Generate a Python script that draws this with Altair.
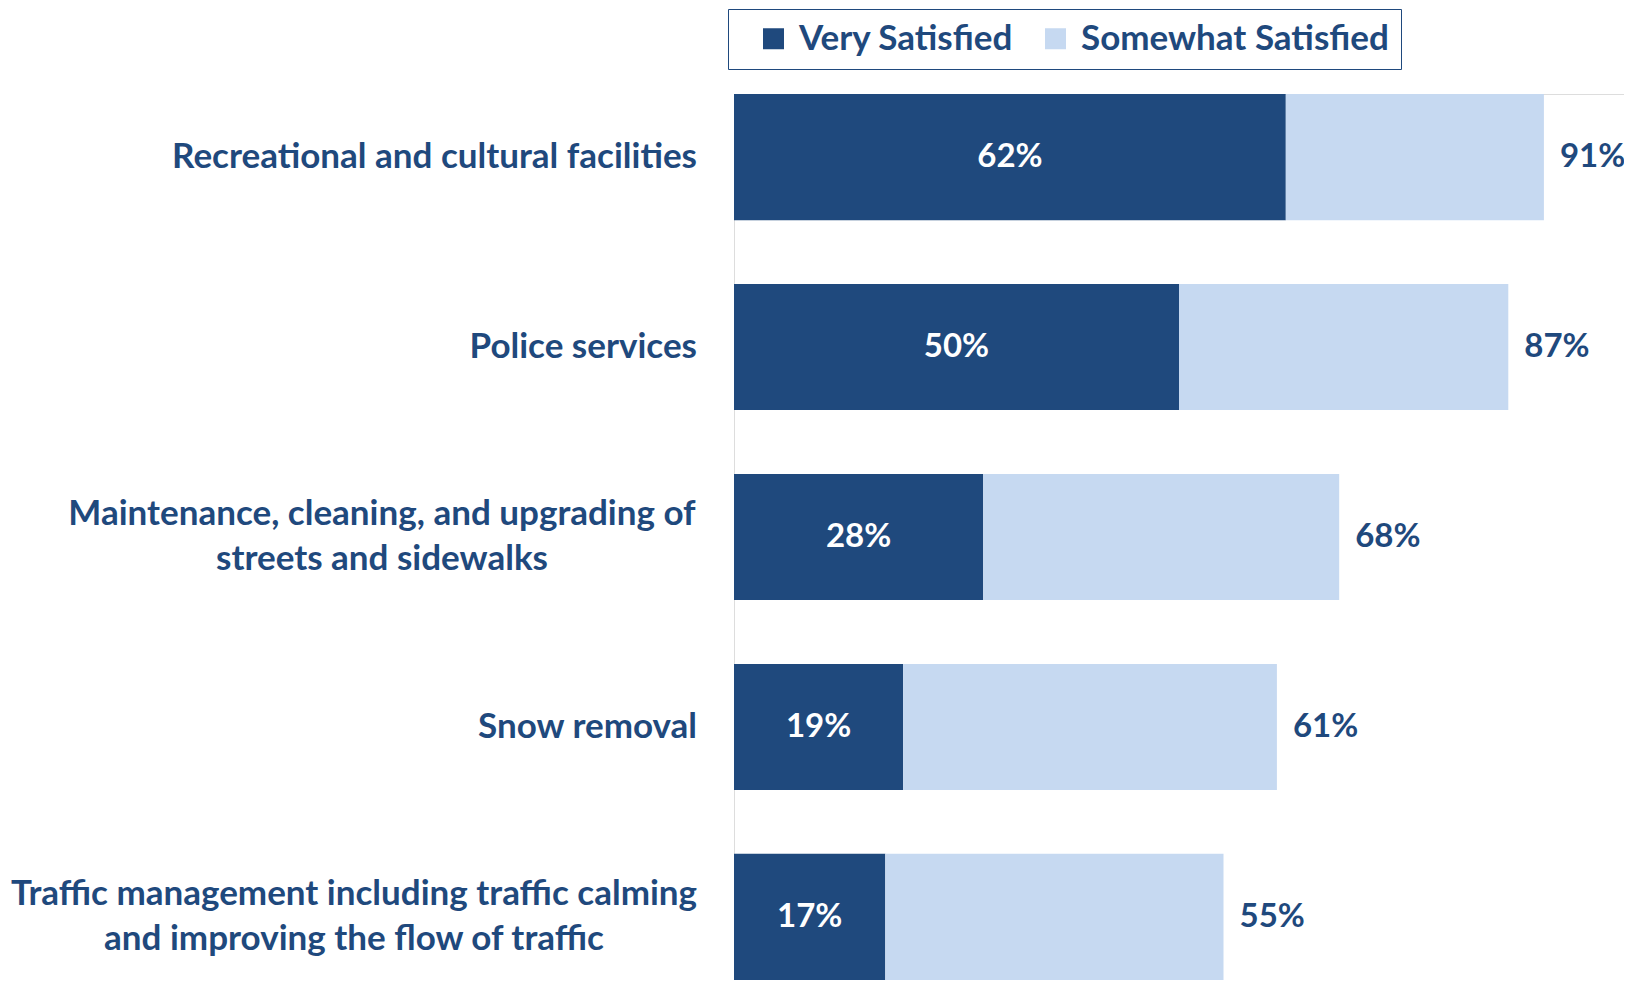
import altair as alt
import pandas as pd

categories = [
    "Recreational and cultural facilities",
    "Police services",
    "Maintenance, cleaning, and upgrading of\nstreets and sidewalks",
    "Snow removal",
    "Traffic management including traffic calming\nand improving the flow of traffic",
]
very_satisfied = [62, 50, 28, 19, 17]
total_satisfied = [91, 87, 68, 61, 55]
segments = ["Very Satisfied", "Somewhat Satisfied"]
colors = ["#1F497D", "#C6D9F1"]

DARK = "#1F497D"
FONT = "Lato"
CAT_SIZE = 35
VAL_SIZE = 33

rows = []
for c, v, t in zip(categories, very_satisfied, total_satisfied):
    rows.append({"category": c, "segment": segments[0], "start": 0, "end": v})
    rows.append({"category": c, "segment": segments[1], "start": v, "end": t})
bars_df = pd.DataFrame(rows)
vals_df = pd.DataFrame({"category": categories, "very": very_satisfied, "total": total_satisfied})

y_enc = alt.Y("category:N", sort=categories, axis=None,
              scale=alt.Scale(paddingInner=0.336, paddingOuter=0))
x_scale = alt.Scale(domain=[0, 100], nice=False, zero=True)

bars = alt.Chart(bars_df).mark_bar(strokeWidth=0).encode(
    x=alt.X("start:Q", scale=x_scale, axis=None),
    x2="end:Q",
    y=y_enc,
    color=alt.Color("segment:N", sort=segments,
                    scale=alt.Scale(domain=segments, range=colors),
                    legend=alt.Legend(
                        title=None, orient="none", direction="horizontal",
                        legendX=-6, legendY=-85,
                        symbolType="square", symbolSize=441,
                        symbolStrokeWidth=0,
                        labelFont=FONT, labelFontSize=CAT_SIZE, labelFontWeight="bold",
                        labelColor=DARK, labelOffset=8, columnPadding=8,
                        strokeColor=DARK, padding=12, symbolOffset=16,
                        labelLimit=500,
                    )),
)

base_vals = alt.Chart(vals_df).transform_calculate(
    mid="datum.very / 2",
    very_lbl="datum.very + '%'",
    total_lbl="datum.total + '%'",
)

inner = base_vals.mark_text(font=FONT, fontSize=VAL_SIZE, fontWeight="bold",
                            color="white", align="center", baseline="middle").encode(
    x=alt.X("mid:Q", scale=x_scale, axis=None), y=y_enc, text="very_lbl:N")

outer = base_vals.mark_text(font=FONT, fontSize=VAL_SIZE, fontWeight="bold",
                            color=DARK, align="left", baseline="middle", dx=16).encode(
    x=alt.X("total:Q", scale=x_scale, axis=None), y=y_enc, text="total_lbl:N")

cat_base = alt.Chart(vals_df)
single = cat_base.transform_filter("indexof(datum.category, '\\n') < 0").mark_text(
    font=FONT, fontSize=CAT_SIZE, fontWeight="bold", color=DARK,
    align="right", baseline="middle").encode(
    x=alt.value(-37), y=y_enc, text="category:N")

multi1 = cat_base.transform_filter(alt.datum.category == categories[2]).mark_text(
    font=FONT, fontSize=CAT_SIZE, fontWeight="bold", color=DARK,
    align="center", baseline="middle", lineBreak="\n", lineHeight=45, dy=-23).encode(
    x=alt.value(-352), y=y_enc, text="category:N")

multi2 = cat_base.transform_filter(alt.datum.category == categories[4]).mark_text(
    font=FONT, fontSize=CAT_SIZE, fontWeight="bold", color=DARK,
    align="center", baseline="middle", lineBreak="\n", lineHeight=45, dy=-23).encode(
    x=alt.value(-380), y=y_enc, text="category:N")

chart = alt.layer(bars, inner, outer, single, multi1, multi2).properties(
    width=890, height=886,
    autosize=alt.AutoSizeParams(type="none"),
    padding={"left": 726, "top": 86, "right": 0, "bottom": 0},
).configure_view(stroke="transparent", strokeWidth=0).configure_axis(
    grid=False, domain=False, ticks=False).configure(background="white")

chart.save("out.html", embed_options={"renderer": "svg", "actions": False})
